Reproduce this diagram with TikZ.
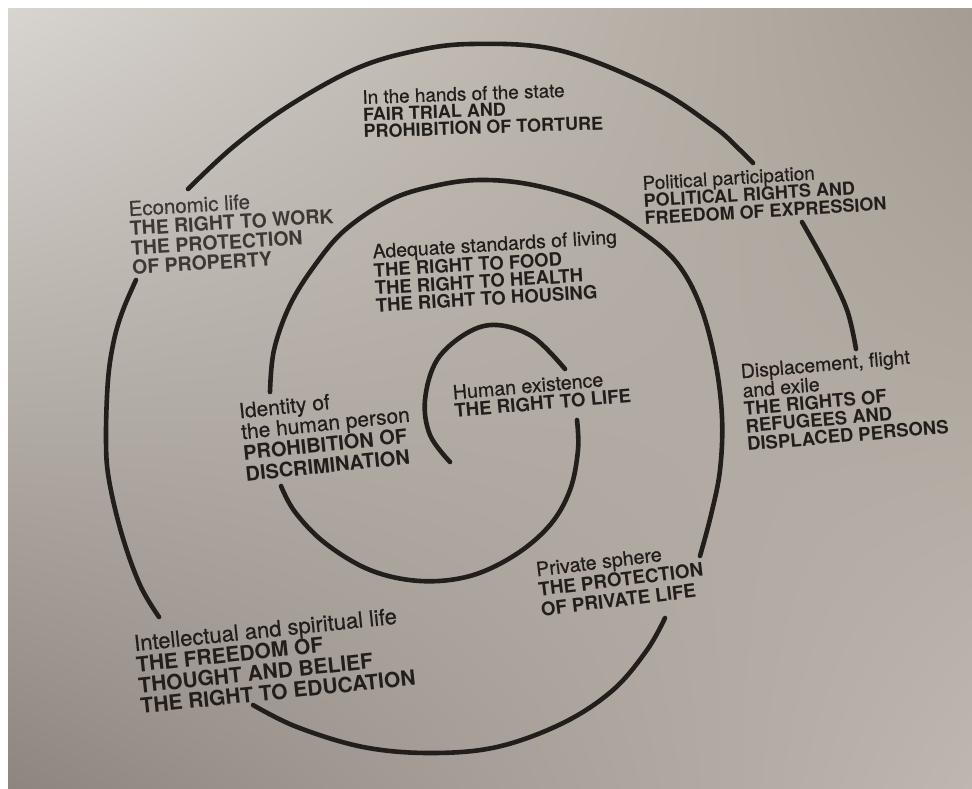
\documentclass[tikz,border=0pt]{standalone}
\usepackage{fontspec}
\setmainfont{TeX Gyre Heros}
\newfontfamily\medium[Scale=1.05, FakeBold=0.5]{TeX Gyre Heros}
\usetikzlibrary{shadings}
\definecolor{ink}{HTML}{221E1B}
\definecolor{inklight}{HTML}{3E3834}
\definecolor{paperUL}{HTML}{D8D4CF}
\definecolor{paperUR}{HTML}{A59D93}
\definecolor{paperLL}{HTML}{8E857F}
\definecolor{paperLR}{HTML}{BEB7B0}
\begin{document}
\begin{tikzpicture}[x=1pt,y=-1pt,
  spiralline/.style={line width=4.6pt, line cap=round, draw=ink},
  lbl/.style={anchor=north west, inner sep=0pt, align=left, text=ink},
]
\useasboundingbox (0,0) rectangle (972,789);
\fill[white] (0,0) rectangle (972,789);
\shade[upper left=paperUL, upper right=paperUR, lower left=paperLL, lower right=paperLR] (8,9) rectangle (972,789);

% spiral, from the centre outwards
\draw[spiralline] plot[smooth, tension=0.6] coordinates {(450,462) (430,435) (425,400) (437,360) (467,333) (497,325) (533,337) (565,369)};
\draw[spiralline] plot[smooth, tension=0.6] coordinates {(577,420) (578,450) (570,490) (550,525) (515,555) (470,576) (420,581) (370,570) (325,543) (295,512) (281,486)};
\draw[spiralline] plot[smooth, tension=0.6] coordinates {(270,392) (274,350) (290,305) (315,265) (345,230) (390,200) (434,186) (480,180) (533,185) (593,203) (643,233) (677,263) (700,305) (715,360) (722,417) (720,470) (711,515) (700,556)};
\draw[spiralline] plot[smooth, tension=0.6] coordinates {(665,618) (647,650) (613,690) (563,723) (497,747) (430,753) (363,747) (297,727) (253,705)};
\draw[spiralline] plot[smooth, tension=0.6] coordinates {(159,617) (140,585) (122,535) (109,480) (106,440) (108,380) (114,340) (123,310) (136,280)};
\draw[spiralline] plot[smooth, tension=0.6] coordinates {(188,189) (233,147) (287,107) (353,70) (410,52) (471,44) (558,50) (651,86) (713,126) (740,150) (753,163)};
\draw[spiralline] plot[smooth, tension=0.6] coordinates {(802,222) (827,267) (847,310) (856,349)};

% labels
\node[lbl, rotate=2, font=\fontsize{18}{17}\selectfont] (state) at (362,90)
  {{\medium In the hands of the state}\\\textbf{FAIR TRIAL AND}\\\textbf{PROHIBITION OF TORTURE}};
\node[lbl, rotate=3.5, text=inklight, font=\fontsize{19.5}{19.5}\selectfont] (econ) at (128,201)
  {{\medium Economic life}\\\textbf{THE RIGHT TO WORK}\\\textbf{THE PROTECTION}\\\textbf{OF PROPERTY}};
\node[lbl, rotate=3.5, font=\fontsize{18}{17.5}\selectfont] (polit) at (642,176)
  {{\medium Political participation}\\\textbf{POLITICAL RIGHTS AND}\\\textbf{FREEDOM OF EXPRESSION}};
\node[lbl, rotate=5, font=\fontsize{18.5}{17.8}\selectfont] (displ) at (740,364)
  {{\medium Displacement, flight}\\{\medium and exile}\\\textbf{THE RIGHTS OF}\\\textbf{REFUGEES AND}\\\textbf{DISPLACED PERSONS}};
\node[lbl, rotate=3.5, font=\fontsize{18.5}{17.5}\selectfont] (living) at (372,244)
  {{\medium Adequate standards of living}\\\textbf{THE RIGHT TO FOOD}\\\textbf{THE RIGHT TO HEALTH}\\\textbf{THE RIGHT TO HOUSING}};
\node[lbl, rotate=5, font=\fontsize{18.7}{18}\selectfont] (exist) at (452,385)
  {{\medium Human existence}\\\textbf{THE RIGHT TO LIFE}};
\node[lbl, rotate=6, font=\fontsize{20}{21}\selectfont] (ident) at (238,403)
  {{\medium Identity of}\\{\medium the human person}\\\textbf{PROHIBITION OF}\\\textbf{DISCRIMINATION}};
\node[lbl, rotate=7, font=\fontsize{18.8}{20}\selectfont] (priv) at (535,562)
  {{\medium Private sphere}\\\textbf{THE PROTECTION}\\\textbf{OF PRIVATE LIFE}};
\node[lbl, rotate=6, font=\fontsize{21}{21}\selectfont] (intel) at (133,635)
  {{\medium Intellectual and spiritual life}\\\textbf{THE FREEDOM OF}\\\textbf{THOUGHT AND BELIEF}\\\textbf{THE RIGHT TO EDUCATION}};
\end{tikzpicture}
\end{document}
